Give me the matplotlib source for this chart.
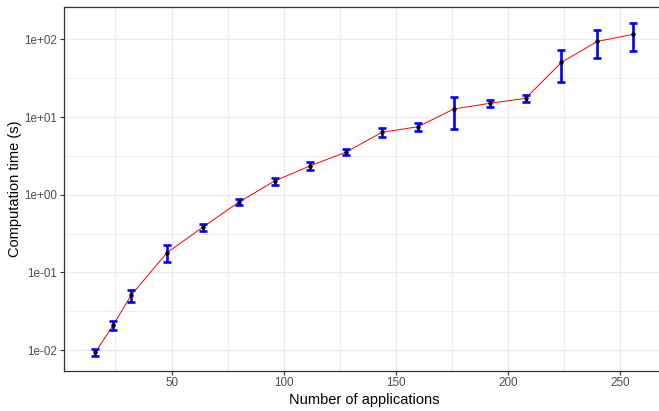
import numpy as np
import matplotlib
matplotlib.use('Agg')
import matplotlib.pyplot as plt
from matplotlib.ticker import FixedLocator, FixedFormatter, NullFormatter

# mean computation time and standard deviation per number of applications
n_apps = [16, 24, 32, 48, 64, 80, 96, 112, 128, 144, 160, 176, 192, 208, 224, 240, 256]
mean_time = [0.0093, 0.021, 0.051, 0.179, 0.382, 0.80, 1.50, 2.36, 3.55, 6.36,
             7.5, 12.7, 15.0, 17.4, 50.6, 94.0, 116.0]
sd_time = [0.0009, 0.003, 0.009, 0.044, 0.038, 0.07, 0.15, 0.30, 0.30, 0.9,
           0.95, 5.6, 1.5, 1.7, 22.6, 37.0, 46.0]

x_ticks = [50, 100, 150, 200, 250]
y_ticks = [1e-2, 1e-1, 1e0, 1e1, 1e2]
y_tick_labels = ['1e-02', '1e-01', '1e+00', '1e+01', '1e+02']

plt.rcParams['font.family'] = ['Liberation Sans', 'DejaVu Sans']

W, H = 659, 411
fig = plt.figure(figsize=(W / 100, H / 100), dpi=100)
left, right, top, bottom = 63.5, 665.0, 7.0, 370.7
ax = fig.add_axes([left / W, 1 - bottom / H, (right - left) / W, (bottom - top) / H])

x = np.array(n_apps, dtype=float)
m = np.array(mean_time)
s = np.array(sd_time)

ax.plot(x, m, color='red', lw=0.7, zorder=2)
# matplotlib caps are 2*capsize long
ax.errorbar(x, m, yerr=[s, s], fmt='none', ecolor='#0000FF', elinewidth=1.9,
            capsize=3.2, capthick=1.9, zorder=3)
ax.plot(x, m, 'o', color='black', ms=2.2, zorder=4)

ax.set_yscale('log')
ax.set_xlim(1.8, 270.2)
ax.set_ylim(0.00542, 260.8)

ax.xaxis.set_major_locator(FixedLocator(x_ticks))
ax.xaxis.set_minor_locator(FixedLocator([25, 75, 125, 175, 225, 275]))
ax.yaxis.set_major_locator(FixedLocator(y_ticks))
ax.yaxis.set_major_formatter(FixedFormatter(y_tick_labels))
ax.yaxis.set_minor_locator(FixedLocator([10 ** (k + 0.5) for k in range(-3, 3)]))
ax.yaxis.set_minor_formatter(NullFormatter())

ax.grid(True, which='major', color='#EBEBEB', lw=1.0, zorder=0)
ax.grid(True, which='minor', color='#EBEBEB', lw=0.6, zorder=0)
ax.set_axisbelow(True)

for sp in ax.spines.values():
    sp.set_color('#333333')
    sp.set_linewidth(0.9)

ax.tick_params(which='major', direction='out', length=2.7, width=0.8, color='#333333',
               labelcolor='#4D4D4D', labelsize=8.4, pad=2)
ax.tick_params(which='minor', length=0)

ax.set_xlabel('Number of applications', fontsize=10.5, color='black', labelpad=3)
ax.set_ylabel('Computation time (s)', fontsize=10.5, color='black', labelpad=1.5)

fig.savefig('out.png', dpi=100)
